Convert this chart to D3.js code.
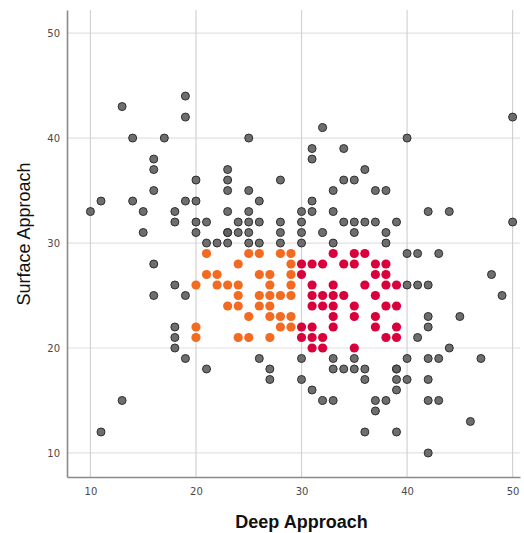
<!DOCTYPE html>
<html>
<head>
<meta charset="utf-8">
<script src="https://cdn.jsdelivr.net/npm/d3@7"></script>
<style>
  body { margin: 0; background: #fff; }
  #chart { width: 524px; height: 533px; }
</style>
</head>
<body>
<div id="chart"></div>
<script>
// data: [deep, surface]
const grayPoints = [
    [19, 44], [13, 43], [19, 42], [50, 42], [32, 41], [14, 40], [17, 40], [25, 40], [40, 40],
    [31, 39], [34, 39], [16, 38], [31, 38], [16, 37], [23, 37], [36, 37],
    [20, 36], [23, 36], [28, 36], [34, 36], [35, 36],
    [16, 35], [23, 35], [25, 35], [33, 35], [37, 35], [38, 35],
    [11, 34], [14, 34], [19, 34], [20, 34], [26, 34], [31, 34],
    [10, 33], [15, 33], [18, 33], [23, 33], [25, 33], [30, 33], [31, 33], [33, 33], [42, 33], [44, 33],
    [18, 32], [20, 32], [21, 32], [24, 32], [25, 32], [26, 32], [28, 32], [30, 32], [34, 32], [35, 32], [36, 32], [37, 32], [39, 32], [50, 32],
    [15, 31], [20, 31], [23, 31], [23, 31], [24, 31], [25, 31], [28, 31], [30, 31], [32, 31], [35, 31], [38, 31],
    [21, 30], [22, 30], [23, 30], [25, 30], [26, 30], [28, 30], [30, 30], [33, 30], [38, 30],
    [40, 29], [41, 29], [43, 29],
    [16, 28], [48, 27],
    [18, 26], [40, 26], [41, 26], [42, 26],
    [16, 25], [19, 25], [49, 25],
    [42, 23], [45, 23], [18, 22], [42, 22], [18, 21], [41, 21], [18, 20], [44, 20],
    [19, 19], [26, 19], [30, 19], [33, 19], [35, 19], [40, 19], [42, 19], [43, 19], [47, 19],
    [21, 18], [27, 18], [33, 18], [34, 18], [35, 18], [36, 18], [39, 18], [39, 18],
    [27, 17], [30, 17], [36, 17], [39, 17], [40, 17], [42, 17],
    [31, 16], [39, 16],
    [13, 15], [32, 15], [33, 15], [37, 15], [38, 15], [42, 15], [43, 15],
    [37, 14], [46, 13], [11, 12], [36, 12], [39, 12], [42, 10]
];

const orangePoints = [
    [21, 29], [25, 29], [26, 29], [28, 29], [29, 29],
    [24, 28], [29, 28],
    [21, 27], [22, 27], [26, 27], [27, 27], [29, 27],
    [20, 26], [22, 26], [23, 26], [24, 26], [27, 26], [29, 26],
    [24, 25], [26, 25], [27, 25], [28, 25], [29, 25],
    [23, 24], [24, 24], [26, 24], [27, 24],
    [25, 23], [27, 23], [28, 23], [29, 23],
    [20, 22], [28, 22], [29, 22],
    [20, 21], [24, 21], [25, 21], [27, 21]
];

const redPoints = [
    [33, 29], [35, 29], [36, 29],
    [30, 28], [31, 28], [32, 28], [34, 28], [35, 28], [37, 28], [38, 28],
    [30, 27], [37, 27], [38, 27],
    [31, 26], [33, 26], [36, 26], [38, 26], [39, 26],
    [31, 25], [32, 25], [33, 25], [34, 25], [37, 25],
    [31, 24], [32, 24], [33, 24], [35, 24], [38, 24], [39, 24],
    [33, 23], [35, 23], [37, 23],
    [30, 22], [31, 22], [33, 22], [37, 22], [39, 22],
    [30, 21], [31, 21], [32, 21], [38, 21], [39, 21],
    [31, 20], [32, 20], [35, 20]
];

const tickValues = [10, 20, 30, 40, 50];

const margin = { top: 10, right: 4, bottom: 56, left: 67 },
    width = 524 - margin.left - margin.right,
    height = 533 - margin.top - margin.bottom;

const svg = d3.select("#chart")
    .append("svg")
    .attr("width", 524)
    .attr("height", 533)
    .append("g")
    .attr("transform", `translate(${margin.left}, ${margin.top})`);

const x = d3.scaleLinear().domain([7.78, 50.7]).range([0, width]);
const y = d3.scaleLinear().domain([7.71, 52.2]).range([height, 0]);

// grid lines
svg.append("g")
    .selectAll("line")
    .data(tickValues)
    .enter()
    .append("line")
    .attr("x1", 0).attr("x2", width)
    .attr("y1", d => y(d)).attr("y2", d => y(d))
    .attr("stroke", "#e2e2e2")
    .attr("stroke-width", 1.2);

svg.append("g")
    .selectAll("line")
    .data(tickValues)
    .enter()
    .append("line")
    .attr("y1", 0).attr("y2", height)
    .attr("x1", d => x(d)).attr("x2", d => x(d))
    .attr("stroke", "#d2d2d2")
    .attr("stroke-width", 1.2);

// axes
const xAxis = svg.append("g")
    .attr("transform", `translate(0, ${height})`)
    .call(d3.axisBottom(x).tickValues(tickValues).tickSize(0).tickPadding(11));
const yAxis = svg.append("g")
    .call(d3.axisLeft(y).tickValues(tickValues).tickSize(0).tickPadding(7));

[xAxis, yAxis].forEach(a => {
    a.select(".domain").attr("stroke", "#8a8a8a").attr("stroke-width", 1.6);
    a.selectAll("text")
        .attr("fill", "#4a4a4a")
        .style("font-family", "'DejaVu Sans', sans-serif")
        .style("font-size", "10px");
});

// points
svg.append("g")
    .selectAll("circle")
    .data(grayPoints)
    .enter()
    .append("circle")
    .attr("cx", d => x(d[0]))
    .attr("cy", d => y(d[1]))
    .attr("r", 4)
    .attr("fill", "#5e5e5e")
    .attr("fill-opacity", 0.9)
    .attr("stroke", "#2e2e2e")
    .attr("stroke-width", 1);

svg.append("g")
    .selectAll("circle")
    .data(orangePoints)
    .enter()
    .append("circle")
    .attr("cx", d => x(d[0]))
    .attr("cy", d => y(d[1]))
    .attr("r", 4.6)
    .attr("fill", "#f36a21");

svg.append("g")
    .selectAll("circle")
    .data(redPoints)
    .enter()
    .append("circle")
    .attr("cx", d => x(d[0]))
    .attr("cy", d => y(d[1]))
    .attr("r", 4.6)
    .attr("fill", "#d9003b");

// axis titles
svg.append("text")
    .attr("text-anchor", "middle")
    .attr("x", x(30))
    .attr("y", height + 51)
    .style("font-family", "'Liberation Sans', Arial, sans-serif")
    .style("font-size", "18px")
    .style("font-weight", "bold")
    .attr("fill", "#111")
    .text("Deep Approach");

svg.append("text")
    .attr("text-anchor", "middle")
    .attr("transform", "rotate(-90)")
    .attr("x", -(234 - margin.top))
    .attr("y", -37)
    .style("font-family", "'Liberation Sans', Arial, sans-serif")
    .style("font-size", "18px")
    .attr("fill", "#111")
    .text("Surface Approach");
</script>
</body>
</html>
